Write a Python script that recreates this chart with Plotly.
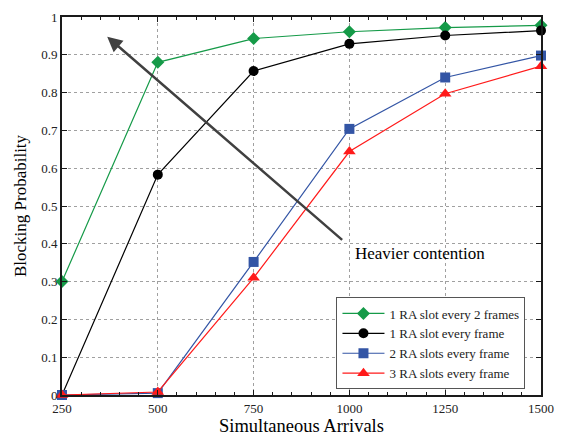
import plotly.graph_objects as go

x_vals = [250, 500, 750, 1000, 1250, 1500]
green_vals = [0.300, 0.880, 0.943, 0.961, 0.972, 0.978]
black_vals = [0.000, 0.583, 0.857, 0.929, 0.951, 0.964]
blue_vals = [0.000, 0.005, 0.352, 0.704, 0.840, 0.898]
red_vals = [0.000, 0.008, 0.310, 0.644, 0.797, 0.870]

names = ["1 RA slot every 2 frames", "1 RA slot every frame",
         "2 RA slots every frame", "3 RA slots every frame"]
colors = ["#159a48", "#000000", "#3355a5", "#ff1a1a"]
symbols = ["diamond", "circle", "square", "triangle-up"]
sizes = [10, 10, 10, 11]
series = [green_vals, black_vals, blue_vals, red_vals]

font_family = "Liberation Serif, Times New Roman, serif"

fig = go.Figure()
for name, vals, c, s, sz in zip(names, series, colors, symbols, sizes):
    fig.add_trace(go.Scatter(
        x=x_vals, y=vals, mode="lines+markers", name=name,
        line=dict(color=c, width=1.2),
        marker=dict(symbol=s, size=sz, color=c, line=dict(width=0)),
        cliponaxis=False,
    ))

fig.add_annotation(x=368, y=0.948, ax=985, ay=0.407,
                   xref="x", yref="y", axref="x", ayref="y",
                   showarrow=True, arrowhead=2, arrowsize=1.2, arrowwidth=2.5,
                   arrowcolor="#404040", text="")
fig.add_annotation(x=1009, y=0.374, xref="x", yref="y", text="Heavier contention",
                   showarrow=False, xanchor="left", yanchor="middle",
                   font=dict(size=17, color="#000000", family=font_family))

axis_common = dict(
    showline=True, linewidth=2, linecolor="#1a1a1a", mirror="allticks",
    ticks="inside", ticklen=5, tickwidth=1, tickcolor="#1a1a1a",
    showgrid=True, gridcolor="#a0a0a0", griddash="dot", gridwidth=1,
    zeroline=False,
    tickfont=dict(size=13, color="#222222", family=font_family),
)

fig.update_xaxes(range=[250, 1500], tickvals=x_vals,
                 title=dict(text="Simultaneous Arrivals", standoff=2,
                            font=dict(size=18.5, color="#000000", family=font_family)),
                 minor=dict(dtick=50, tick0=250, ticks="inside", ticklen=3,
                            tickcolor="#1a1a1a", showgrid=False),
                 **axis_common)
fig.update_yaxes(range=[0, 1], dtick=0.1, tickformat="~g",
                 title=dict(text="Blocking Probability", standoff=10,
                            font=dict(size=17, color="#000000", family=font_family)),
                 **axis_common)

fig.update_layout(
    width=567, height=441,
    margin=dict(l=62, r=26, t=10, b=43),
    plot_bgcolor="#ffffff", paper_bgcolor="#ffffff",
    font=dict(family=font_family, color="#000000"),
    legend=dict(x=0.573, y=0.258, xanchor="left", yanchor="top",
                bgcolor="#ffffff", bordercolor="#555555", borderwidth=1,
                font=dict(size=13, family=font_family, color="#222222"),
                tracegroupgap=0, itemwidth=42),
    showlegend=True,
)

fig.write_html("out.html")
